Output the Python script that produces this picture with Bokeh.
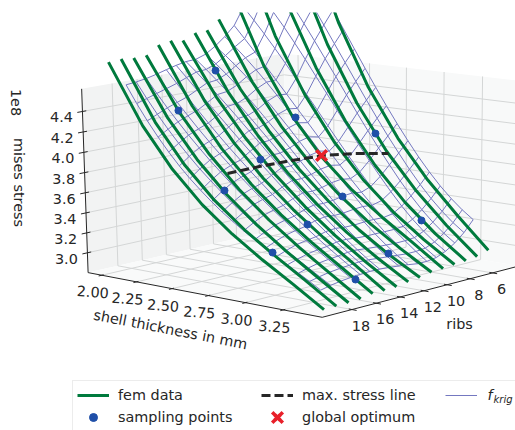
import numpy as np
from bokeh.plotting import figure
from bokeh.models import Range1d, Legend, LegendItem
from bokeh.core.properties import value
from bokeh.embed import file_html
from bokeh.resources import INLINE

thick_ticks=[2.0,2.25,2.5,2.75,3.0,3.25]
rib_ticks=[18,16,14,12,10,8,6]
stress_ticks=[3.0,3.2,3.4,3.6,3.8,4.0,4.2,4.4]
tmin,tmax,rmin,rmax,zmin,zmax=1.9,3.5,3.6,20.4,2.8,4.62

fem_thick=[1.97,2.2,2.4,2.6,2.8,3.0,3.2,3.4]
fem_ribs=[19,18,17,16,15,14,13,12,11,10,9,8,7,6,5]
fem_19=[4.861,4.286,3.906,3.608,3.372,3.173,2.991,2.802]
fem_18=[4.870,4.298,3.920,3.623,3.385,3.184,2.998,2.805]
fem_17=[4.859,4.317,3.950,3.652,3.405,3.193,2.999,2.807]
fem_16=[4.866,4.338,3.976,3.677,3.426,3.208,3.009,2.813]
fem_15=[4.946,4.389,4.010,3.703,3.449,3.231,3.033,2.835]
fem_14=[4.967,4.420,4.045,3.735,3.475,3.249,3.041,2.835]
fem_13=[4.951,4.430,4.062,3.746,3.475,3.240,3.032,2.842]
fem_12=[5.005,4.454,4.068,3.744,3.473,3.242,3.042,2.860]
fem_11=[5.012,4.466,4.079,3.751,3.475,3.243,3.045,2.874]
fem_10=[5.101,4.517,4.110,3.776,3.502,3.273,3.076,2.897]
fem_9=[5.402,4.655,4.176,3.814,3.536,3.313,3.112,2.903]
fem_8=[5.761,4.932,4.386,3.952,3.609,3.335,3.111,2.915]
fem_7=[6.138,5.239,4.630,4.133,3.732,3.408,3.144,2.923]
fem_6=[6.570,5.529,4.841,4.290,3.850,3.495,3.198,2.936]
fem_5=[6.973,5.800,5.030,4.427,3.956,3.580,3.265,2.973]
fem_data=[fem_19,fem_18,fem_17,fem_16,fem_15,fem_14,fem_13,fem_12,fem_11,fem_10,fem_9,fem_8,fem_7,fem_6,fem_5]

sample_ribs=[12,16,9,6,13,17,10,7,18,14,15,11]
sample_thick=[2.111,2.189,2.416,2.725,2.499,2.584,2.813,3.109,2.986,2.895,3.289,3.195]
sample_stress=[4.657,4.365,4.181,4.012,3.875,3.690,3.502,3.253,3.211,3.351,2.942,3.057]

line_ribs=[16,14,12,10,8,6]
line_thick=[2.522,2.574,2.629,2.686,2.745,2.813]
line_stress=[3.817,3.847,3.868,3.881,3.865,3.830]
opt_rib,opt_thick,opt_stress=10,2.673,3.878

krig_thick=[2.0,2.072,2.144,2.217,2.289,2.361,2.433,2.506,2.578,2.65,2.722,2.794,2.867,2.939,3.011,3.083,3.156,3.228,3.3]
krig_ribs=[18,17.188,16.375,15.563,14.75,13.938,13.125,12.313,11.5,10.688,9.875,9.063,8.25,7.438,6.625,5.813,5]
krig_a=[4.625,4.456,4.301,4.157,4.026,3.906,3.798,3.699,3.607,3.522,3.446,3.374,3.305,3.241,3.178,3.117,3.056,2.995,2.931]
krig_b=[4.636,4.487,4.347,4.215,4.092,3.979,3.872,3.773,3.679,3.590,3.508,3.430,3.355,3.284,3.215,3.148,3.083,3.018,2.953]
krig_c=[4.652,4.519,4.391,4.269,4.152,4.043,3.937,3.837,3.741,3.649,3.563,3.479,3.399,3.321,3.247,3.175,3.105,3.036,2.969]
krig_d=[4.676,4.550,4.427,4.309,4.195,4.085,3.980,3.879,3.781,3.686,3.596,3.509,3.425,3.343,3.265,3.191,3.118,3.048,2.980]
krig_e=[4.704,4.582,4.463,4.347,4.234,4.124,4.018,3.915,3.815,3.718,3.624,3.534,3.446,3.362,3.280,3.203,3.128,3.056,2.986]
krig_f=[4.730,4.622,4.513,4.404,4.296,4.189,4.084,3.979,3.876,3.775,3.676,3.579,3.485,3.394,3.307,3.223,3.142,3.066,2.993]
krig_g=[4.750,4.659,4.563,4.463,4.361,4.256,4.149,4.041,3.933,3.825,3.718,3.613,3.511,3.412,3.317,3.228,3.143,3.064,2.992]
krig_h=[4.756,4.668,4.575,4.476,4.374,4.268,4.159,4.049,3.938,3.828,3.718,3.610,3.506,3.404,3.307,3.217,3.133,3.055,2.984]
krig_i=[4.790,4.707,4.617,4.520,4.418,4.310,4.199,4.085,3.970,3.854,3.739,3.626,3.515,3.408,3.307,3.213,3.126,3.047,2.976]
krig_j=[4.853,4.772,4.683,4.586,4.482,4.371,4.255,4.136,4.015,3.893,3.771,3.652,3.535,3.421,3.314,3.214,3.122,3.039,2.965]
krig_k=[4.932,4.843,4.745,4.639,4.528,4.411,4.289,4.166,4.040,3.914,3.788,3.665,3.545,3.428,3.317,3.213,3.117,3.030,2.951]
krig_l=[5.027,4.907,4.785,4.660,4.533,4.405,4.276,4.148,4.020,3.894,3.771,3.651,3.533,3.420,3.313,3.213,3.119,3.031,2.951]
krig_m=[5.195,5.075,4.949,4.817,4.681,4.541,4.399,4.256,4.113,3.972,3.833,3.699,3.569,3.445,3.329,3.223,3.127,3.041,2.966]
krig_n=[5.398,5.278,5.148,5.011,4.866,4.716,4.561,4.405,4.248,4.092,3.939,3.791,3.648,3.512,3.385,3.271,3.169,3.080,3.005]
krig_o=[5.613,5.484,5.345,5.198,5.043,4.883,4.717,4.551,4.383,4.216,4.054,3.896,3.744,3.599,3.466,3.345,3.237,3.144,3.065]
krig_p=[5.829,5.681,5.526,5.364,5.197,5.024,4.850,4.674,4.500,4.327,4.160,3.997,3.842,3.694,3.558,3.435,3.324,3.228,3.146]
krig_q=[6.045,5.876,5.702,5.524,5.343,5.160,4.976,4.793,4.613,4.436,4.266,4.102,3.945,3.797,3.662,3.539,3.429,3.334,3.253]
krig_data=[krig_a,krig_b,krig_c,krig_d,krig_e,krig_f,krig_g,krig_h,krig_i,krig_j,krig_k,krig_l,krig_m,krig_n,krig_o,krig_p,krig_q]

# Perspective camera of the 3D view: (thickness, ribs, stress) -> page pixels
CAM=np.array([[111.6744854,-10.8097698,-3.7783152,92.6480278],[12.2216829,1.5708827,-85.8414895,414.1078355],[-0.0356055,-0.0031127,-0.0097305,1.0]])
def proj(t,r,z):
    t,r,z=np.broadcast_arrays(np.asarray(t,float),np.asarray(r,float),np.asarray(z,float))
    X=np.stack([t,r,z,np.ones_like(t)]); u=CAM@X
    return u[0]/u[2],u[1]/u[2]

DARK="#262626"; FONT=value("DejaVu Sans"); FS="14.4px"
p=figure(width=515,height=430,x_range=Range1d(0,515),y_range=Range1d(430,12),output_backend="svg",toolbar_location=None,min_border_left=0,min_border_right=0,min_border_top=12,min_border_bottom=0,outline_line_color=None)
p.xaxis.visible=False;p.yaxis.visible=False;p.grid.visible=False
def pane(ts,rs,zs,col):
    x,y=proj(ts,rs,zs); p.patch(x,y,fill_color=col,line_color=None)
pane([tmin,tmin,tmin,tmin],[rmax,rmin,rmin,rmax],[zmin,zmin,zmax,zmax],"#f2f3f3")
pane([tmin,tmax,tmax,tmin],[rmin,rmin,rmin,rmin],[zmin,zmin,zmax,zmax],"#f8f9f9")
pane([tmin,tmax,tmax,tmin],[rmax,rmax,rmin,rmin],[zmin]*4,"#f9fafa")
GC="#d4d6d6"
for t in thick_ticks:
    x,y=proj([t,t,t],[rmax,rmin,rmin],[zmin,zmin,zmax]);p.line(x,y,line_color=GC,line_width=1)
for r in rib_ticks:
    x,y=proj([tmax,tmin,tmin],[r,r,r],[zmin,zmin,zmax]);p.line(x,y,line_color=GC,line_width=1)
for z in stress_ticks:
    x,y=proj([tmin,tmin,tmax],[rmax,rmin,rmin],[z,z,z]);p.line(x,y,line_color=GC,line_width=1)
for a,b in [((tmin,rmax,zmin),(tmax,rmax,zmin)),((tmax,rmax,zmin),(tmax,rmin,zmin)),((tmin,rmax,zmin),(tmin,rmax,zmax))]:
    x,y=proj(*zip(a,b));p.line(x,y,line_color=DARK,line_width=1)
for t in thick_ticks:
    x,y=proj([t,t],[rmax-.15,rmax+.25],[zmin,zmin]);p.line(x,y,line_color=DARK,line_width=1)
for r in rib_ticks:
    x,y=proj([tmax-.02,tmax+.03],[r,r],[zmin,zmin]);p.line(x,y,line_color=DARK,line_width=1)
for z in stress_ticks:
    x,y=proj([tmin,tmin],[rmax-.3,rmax+.4],[z,z]);p.line(x,y,line_color=DARK,line_width=1)
MC="#7478c0"
for row,r in zip(krig_data,krig_ribs):
    x,y=proj(krig_thick,r,row);wire=p.line(x,y,line_color=MC,line_width=1)
M=np.array(krig_data)
for j,t in enumerate(krig_thick):
    x,y=proj(t,np.array(krig_ribs,float),M[:,j]);p.line(x,y,line_color=MC,line_width=1)
GR="#007a3d"
for row,r in zip(fem_data,fem_ribs):
    x,y=proj(fem_thick,r,row);gl=p.line(x,y,line_color=GR,line_width=3)
x,y=proj(sample_thick,sample_ribs,sample_stress)
dr=p.scatter(x,y,marker="circle",size=7,fill_color="#1f4fa8",line_color="#1f4fa8")
x,y=proj(line_thick,line_ribs,line_stress)
ds=p.line(x,y,line_color=DARK,line_width=3,line_dash="9 4")
x,y=proj(opt_thick,opt_rib,opt_stress)
op=p.scatter(np.atleast_1d(x),np.atleast_1d(y),marker="x",size=15,line_color="#e8202a",line_width=3.5)
def lab(x,y,txt,dx=0,dy=0,ang=0.0):
    p.text(x,y,text=txt,x_offset=dx,y_offset=dy,angle=np.radians(ang),text_align="center",text_baseline="middle",text_font=FONT,text_font_size=FS,text_color=DARK)
x,y=proj(thick_ticks,rmax,zmin);lab(x,y,[f"{t:.2f}" for t in thick_ticks],-9,17,-4)
x,y=proj(tmax,rib_ticks,zmin);lab(x,y,[str(r) for r in rib_ticks],9,16)
x,y=proj(tmin,rmax,stress_ticks);lab(x,y,[f"{z:.1f}" for z in stress_ticks],-21,6)
lab([170],[329],["shell thickness in mm"],ang=-11)
lab([459],[323],["ribs"])
lab([18],[182],["mises stress"],ang=-90)
lab([15],[102],["1e8"],ang=-90)
p.quad(left=[72],right=[515],top=[381],bottom=[430],fill_color="white",line_color=None)
p.scatter([277],[417],marker="x",size=15,line_color="#e8202a",line_width=3.5)
p.text([487],[394],text=["f"],text_font=FONT,text_font_style="italic",text_font_size=FS,text_color=DARK,text_baseline="middle")
p.text([493],[399],text=["krig"],text_font=FONT,text_font_style="italic",text_font_size="10px",text_color=DARK,text_baseline="middle")
leg=Legend(items=[LegendItem(label="fem data",renderers=[gl]),LegendItem(label="sampling points",renderers=[dr]),LegendItem(label="max. stress line",renderers=[ds]),LegendItem(label="global optimum",renderers=[op]),LegendItem(label=" ",renderers=[wire])],
  location=(72,-2),orientation="vertical",nrows=2,spacing=2,margin=0,padding=4,glyph_width=32,glyph_height=20,label_standoff=9,label_width=141,label_text_font="DejaVu Sans",label_text_font_size=FS,label_text_color=DARK,border_line_color="#d9d9d9",background_fill_alpha=0,label_height=20)
p.add_layout(leg)
open("out.html","w").write(file_html(p,INLINE))
